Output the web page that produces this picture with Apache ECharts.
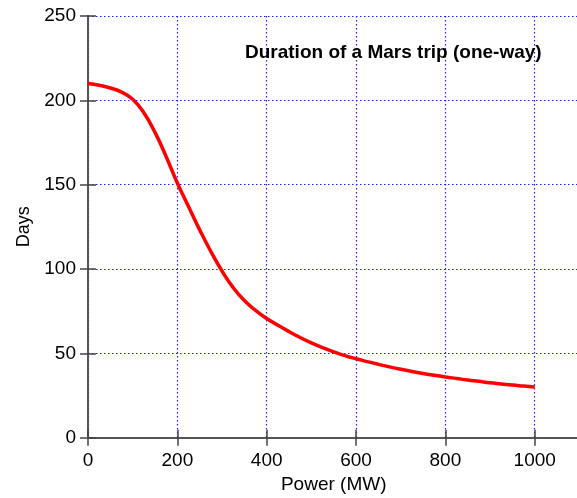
<!DOCTYPE html>
<html>
<head>
<meta charset="utf-8">
<script src="https://cdn.jsdelivr.net/npm/echarts@6/dist/echarts.min.js"></script>
<style>
html,body{margin:0;padding:0;background:#fff;}
#c{width:577px;height:498px;}
</style>
</head>
<body>
<div id="c"></div>
<script>
var powerMW = [0, 25, 50, 75, 100, 125, 150, 175, 200, 225, 250, 275, 300, 325, 350, 375, 400, 425, 450, 475, 500, 525, 550, 575, 600, 625, 650, 675, 700, 725, 750, 775, 800, 825, 850, 875, 900, 925, 950, 975, 1000];
var days = [210, 208.9, 207.3, 204.9, 200.6, 192.6, 181, 166.6, 151, 137, 123.2, 110.4, 98.8, 89, 81.3, 75.5, 70.7, 66.7, 62.9, 59.4, 56.2, 53.4, 50.9, 48.7, 46.8, 45.1, 43.5, 42, 40.6, 39.3, 38.1, 37, 36, 35.1, 34.2, 33.4, 32.6, 31.9, 31.2, 30.6, 30];
var xTicks = [0, 200, 400, 600, 800, 1000];
var yTicks = [0, 50, 100, 150, 200, 250];
var titleText = 'Duration of a Mars trip (one-way)';
var xName = 'Power (MW)';
var yName = 'Days';

var FONT = '"Liberation Sans", Arial, Helvetica, sans-serif';
var grid = {left: 88, top: 16, width: 491.4, height: 421.7, outerBoundsMode: 'none', containLabel: false};
var gridLine = {show: true, lineStyle: {color: '#1f1fff', width: 1.2, type: [1.5, 2.5]}};
var axisLine = {show: true, lineStyle: {color: '#555', width: 2}};
var tick = {show: true, inside: true, length: 8, lineStyle: {color: '#444', width: 1.5}};

var data = powerMW.map(function (p, i) { return [p, days[i]]; });

var chart = echarts.init(document.getElementById('c'), null, {renderer: 'canvas'});
chart.setOption({
  animation: false,
  backgroundColor: '#fff',
  title: {
    text: titleText,
    left: 245, top: 43, padding: 0,
    textStyle: {fontFamily: FONT, fontSize: 19, fontWeight: 'bold', color: '#000', lineHeight: 19}
  },
  grid: grid,
  xAxis: [{
    type: 'value', min: 0, max: 1100, interval: 200,
    name: xName, nameLocation: 'middle', nameGap: 38,
    nameTextStyle: {fontFamily: FONT, fontSize: 19, color: '#000'},
    axisLine: axisLine, axisTick: tick, splitLine: gridLine,
    axisLabel: {fontFamily: FONT, fontSize: 19, color: '#000', margin: 14,
      formatter: function (v) { return xTicks.indexOf(v) >= 0 ? String(v) : ''; }}
  }, {
    type: 'value', position: 'top', min: 0, max: 1100, interval: 200,
    axisLine: axisLine, axisTick: tick, splitLine: {show: false}, axisLabel: {show: false}
  }],
  yAxis: [{
    type: 'value', min: 0, max: 250, interval: 50,
    name: yName, nameLocation: 'middle', nameGap: 54, nameRotate: 90,
    nameTextStyle: {fontFamily: FONT, fontSize: 18, color: '#000'},
    axisLine: axisLine, axisTick: tick, splitLine: gridLine,
    axisLabel: {fontFamily: FONT, fontSize: 19, color: '#000', margin: 12,
      formatter: function (v) { return yTicks.indexOf(v) >= 0 ? String(v) : ''; }}
  }, {
    type: 'value', position: 'right', min: 0, max: 250, interval: 50,
    axisLine: axisLine, axisTick: tick, splitLine: {show: false}, axisLabel: {show: false}
  }],
  series: [{
    type: 'line', data: data, xAxisIndex: 0, yAxisIndex: 0,
    smooth: 0.5, showSymbol: false,
    lineStyle: {color: '#ff0000', width: 3.5}
  }]
});
</script>
</body>
</html>
